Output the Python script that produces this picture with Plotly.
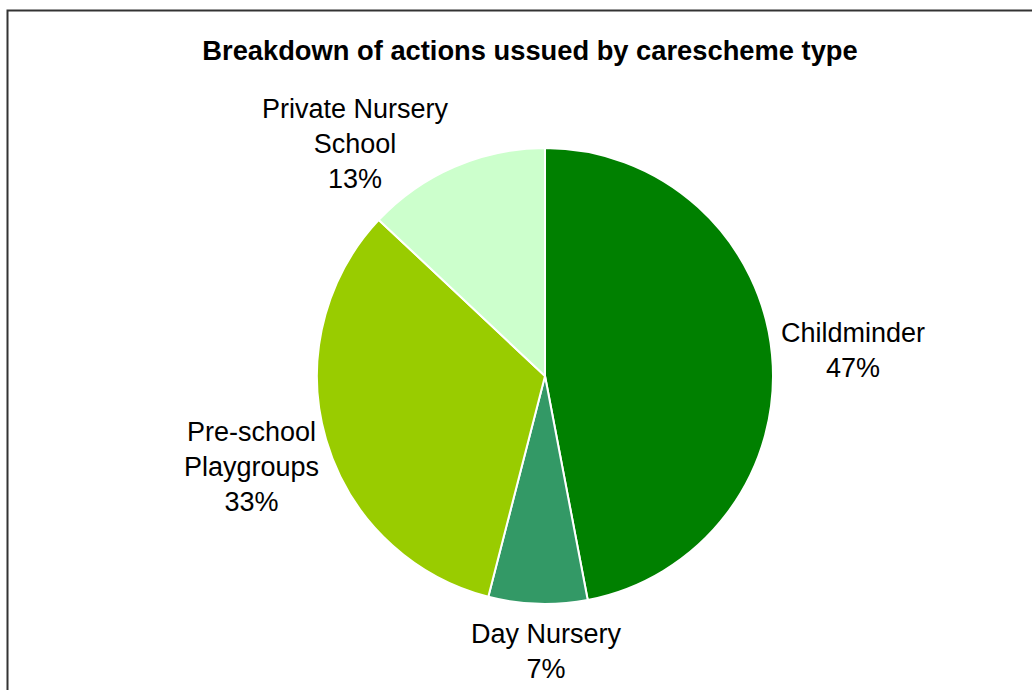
import math
import plotly.graph_objects as go

# data
categories = ["Childminder", "Day Nursery", "Pre-school Playgroups", "Private Nursery School"]
label_lines = [["Childminder"], ["Day Nursery"], ["Pre-school", "Playgroups"], ["Private Nursery", "School"]]
shares = [47, 7, 33, 13]
colours = ["#008000", "#339966", "#99CC00", "#CCFFCC"]

W, H = 1032, 690
cx, cy, r = 545, 376, 228
FONT = "Liberation Sans, Arial, sans-serif"
fs = 27

# small hand tweaks so labels sit where Excel put them (pixels)
nudge = {
    "Childminder": (-5, 0),
    "Day Nursery": (11, 5),
    "Pre-school Playgroups": (2, 10),
    "Private Nursery School": (-53, 33),
}

fig = go.Figure(go.Pie(
    labels=categories,
    values=shares,
    textinfo="none",
    marker=dict(colors=colours, line=dict(color="white", width=2)),
    sort=False,
    direction="clockwise",
    rotation=0,
    showlegend=False,
    hoverinfo="label+percent",
    domain=dict(x=[(cx - r) / W, (cx + r) / W], y=[1 - (cy + r) / H, 1 - (cy - r) / H]),
))

# outside labels, placed off each slice's mid angle
total = sum(shares)
cum = 0
for name, lines, v in zip(categories, label_lines, shares):
    mid = (cum + v / 2) / total * 2 * math.pi
    cum += v
    sx, sy = math.sin(mid), -math.cos(mid)
    px = cx + sx * (r + 8)
    py = cy + sy * (r + 8)
    w = 0.53 * fs * max(len(s) for s in lines)
    h = 1.3 * fs * (len(lines) + 1)
    px += sx * w / 2 + nudge[name][0]
    py += sy * h / 2 + nudge[name][1]
    pct = round(v / total * 100)
    fig.add_annotation(
        x=px / W, y=1 - py / H, xref="paper", yref="paper",
        text="<br>".join(lines) + f"<br>{pct}%",
        showarrow=False, align="center", xanchor="center", yanchor="middle",
        font=dict(family=FONT, size=fs, color="black"),
    )

# chart-area border (right and bottom edges fall outside the window)
fig.add_shape(type="rect", xref="paper", yref="paper",
              x0=7.5 / W, x1=1.02, y0=-0.02, y1=1 - 10.5 / H,
              line=dict(color="#333333", width=2), fillcolor="rgba(0,0,0,0)")

fig.update_layout(
    width=W, height=H,
    margin=dict(l=0, r=0, t=0, b=0),
    paper_bgcolor="white",
    plot_bgcolor="white",
    font=dict(family=FONT, color="black"),
    title=dict(
        text="<b>Breakdown of actions ussued by carescheme type</b>",
        x=530 / W, xanchor="center",
        y=1 - 50 / H, yanchor="middle",
        font=dict(size=27.3, color="black"),
    ),
)

fig.write_html("out.html", config={"displayModeBar": False},
               post_script="document.body.style.margin='0';")
